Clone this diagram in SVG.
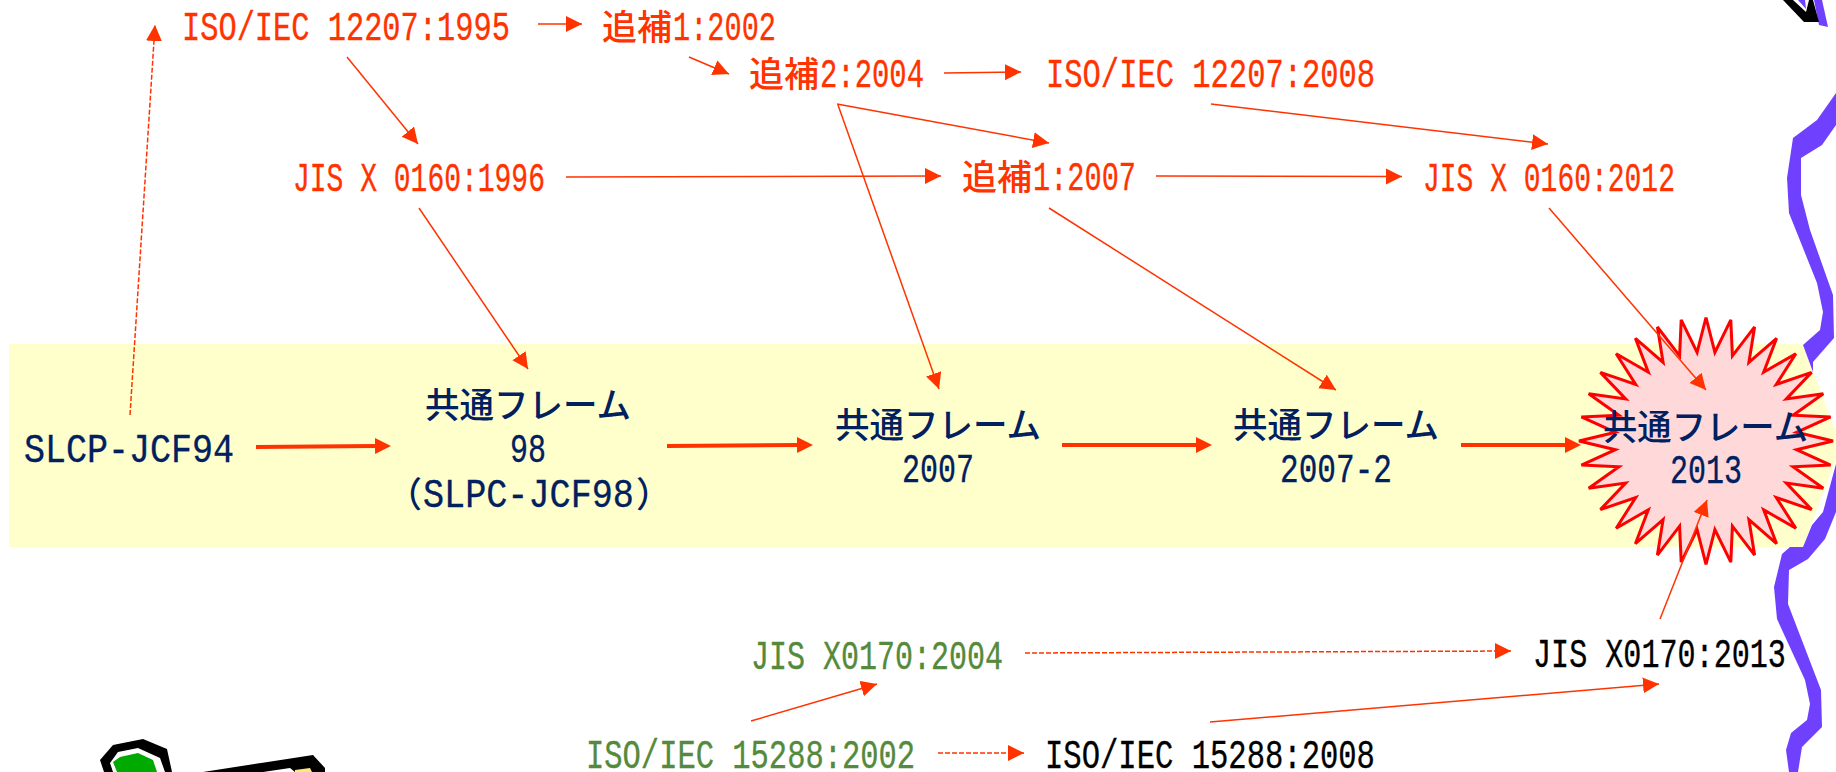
<svg xmlns="http://www.w3.org/2000/svg" width="1836" height="772" viewBox="0 0 1836 772">
<style>
text{font-family:"Liberation Mono","Noto Sans CJK JP",monospace;font-size:40px;font-weight:400;stroke-width:.35px}
.jp{font-family:"Noto Sans CJK JP",sans-serif;font-size:35px;font-weight:500;stroke-width:0}
.red{fill:#ff3300;stroke:#ff3300}.navy{fill:#002060;stroke:#002060}.green{fill:#558a3c;stroke:#558a3c}.black{fill:#000;stroke:#000}
.thin{stroke:#ff3300;stroke-width:1.5;fill:none;marker-end:url(#head)}
.dash{stroke:#ff3300;stroke-width:1.5;fill:none;stroke-dasharray:5 2;marker-end:url(#head)}
.thick{stroke:#ff3300;stroke-width:4;fill:none;marker-end:url(#headThick)}
.band{fill:#7040ff}
</style>
<defs>
<marker id="head" markerUnits="userSpaceOnUse" markerWidth="18" markerHeight="18" refX="16" refY="8" orient="auto"><path d="M0 0L16 8L0 16Z" fill="#ff3300"/></marker>
<marker id="headThick" markerUnits="userSpaceOnUse" markerWidth="18" markerHeight="18" refX="1" refY="8" orient="auto"><path d="M0 0L16 8L0 16Z" fill="#ff3300"/></marker>
</defs>
<rect width="1836" height="772" fill="#fff"/>

<!-- timeline band -->
<polygon id="band" points="9,344 1803,344 1841,445 1803,547 9,547" fill="#ffffcc"/>

<!-- wavy purple edge -->
<g id="edge">
<polygon class="band" points="1814,0 1819,25 1828,27 1822,0"/>
<polygon class="band" points="1836,93 1817,120 1793,138 1787,178 1789,213 1817,283 1823,312 1820,330 1803,345 1813,372 1813,362 1834,338 1833,295 1810,230 1801,195 1801,158 1822,145 1836,125"/>
<polygon class="band" points="1836,464 1823,512 1812,525 1803,547 1790,547 1782,554 1774,587 1777,619 1805,680 1810,704 1807,720 1791,733 1786,750 1789,772 1798,772 1802,747 1822,727 1821,690 1788,604 1789,570 1808,559 1825,539 1836,512"/>
</g>

<!-- corner glyph at top right -->
<g id="corner">
<polygon points="1783,0 1804,22 1819,22 1813,0" fill="#000"/>
<polygon points="1793,0 1806,12 1809,0" fill="#fff"/>
<polygon points="1798,0 1806,9 1805,0" fill="#7040ff"/>
</g>

<!-- burst behind the current edition -->
<polygon id="burst" fill="#ffd9d9" stroke="#ff0000" stroke-width="3" stroke-linejoin="miter" points="1706,317.5 1714.9,352.4 1730.8,319.9 1732.4,355.8 1754.6,326.9 1748.9,362.5 1776.6,338.3 1763.7,372.2 1795.8,353.7 1776.3,384.5 1811.6,372.4 1786.3,399 1823.3,393.7 1793.1,415.2 1830.6,416.9 1796.6,432.3 1833,441 1796.6,449.7 1830.6,465.1 1793.1,466.8 1823.3,488.3 1786.3,483 1811.6,509.6 1776.3,497.5 1795.8,528.3 1763.7,509.8 1776.6,543.7 1748.9,519.5 1754.6,555.1 1732.4,526.2 1730.8,562.1 1714.9,529.6 1706,564.5 1697.1,529.6 1681.2,562.1 1679.6,526.2 1657.4,555.1 1663.1,519.5 1635.4,543.7 1648.3,509.8 1616.2,528.3 1635.7,497.5 1600.4,509.6 1625.7,483 1588.7,488.3 1618.9,466.8 1581.4,465.1 1615.4,449.7 1579,441 1615.4,432.3 1581.4,416.9 1618.9,415.2 1588.7,393.7 1625.7,399 1600.4,372.4 1635.7,384.5 1616.2,353.7 1648.3,372.2 1635.4,338.3 1663.1,362.5 1657.4,326.9 1679.6,355.8 1681.2,319.9 1697.1,352.4"/>

<!-- figure cropped by the bottom edge -->
<g id="mascot">
<polygon points="104,772 100,760 113,745 143,739 167,749 172,772" fill="#000"/>
<polygon points="113,772 110,763 118,752 138,748 160,758 165,772" fill="#fff"/>
<polygon points="117,772 113,762 120,757 138,753 153,760 157,772" fill="#00aa00"/>
<polygon points="203,772 313,755 325,768 325,772" fill="#000"/>
<polygon points="263,772 290,768 295,772" fill="#fff"/>
<polygon points="295,772 295,770 310,768 312,772" fill="#ffe680"/>
</g>

<g id="connectors">
<line class="dash" x1="130" y1="415" x2="155" y2="25"/>
<line class="thin" x1="538" y1="24" x2="582" y2="24"/>
<line class="thin" x1="689" y1="57" x2="729" y2="74"/>
<line class="thin" x1="347" y1="57" x2="418" y2="144"/>
<line class="thin" x1="944" y1="73" x2="1021" y2="72"/>
<line class="thin" x1="837" y1="104" x2="1049" y2="143"/>
<line class="thin" x1="838" y1="105" x2="939" y2="389"/>
<line class="thin" x1="1211" y1="104" x2="1548" y2="144"/>
<line class="thin" x1="566" y1="177" x2="941" y2="176"/>
<line class="thin" x1="1156" y1="176" x2="1402" y2="176.5"/>
<line class="thin" x1="419" y1="208" x2="528" y2="369"/>
<line class="thin" x1="1049" y1="208" x2="1336" y2="390"/>
<line class="thin" x1="1549" y1="208" x2="1706" y2="390"/>
<line class="thin" x1="1660" y1="619" x2="1707" y2="500"/>
<line class="thick" x1="256" y1="447" x2="376" y2="446"/>
<line class="thick" x1="667" y1="446" x2="798" y2="445"/>
<line class="thick" x1="1062" y1="445" x2="1197" y2="445"/>
<line class="thick" x1="1461" y1="445" x2="1566" y2="445"/>
<line class="dash" x1="1025" y1="653" x2="1511" y2="651"/>
<line class="thin" x1="751" y1="721" x2="877" y2="684"/>
<line class="dash" x1="938" y1="753" x2="1024" y2="753"/>
<line class="thin" x1="1210" y1="722" x2="1659" y2="684"/>
</g>

<g id="iso-12207-1995"><text class="red" transform="translate(182 40) scale(.759 1)">ISO/IEC 12207:1995</text></g>
<g id="amd1-2002"><text class="red jp" x="602" y="40">追補</text><text class="red" transform="translate(673 40) scale(.715 1)">1:2002</text></g>
<g id="amd2-2004"><text class="red jp" x="749" y="87">追補</text><text class="red" transform="translate(820 87) scale(.722 1)">2:2004</text></g>
<g id="iso-12207-2008"><text class="red" transform="translate(1046 87) scale(.762 1)">ISO/IEC 12207:2008</text></g>
<g id="jis-0160-1996"><text class="red" transform="translate(293 191) scale(.7 1)">JIS X 0160:1996</text></g>
<g id="amd1-2007"><text class="red jp" x="962" y="190">追補</text><text class="red" transform="translate(1033 190) scale(.715 1)">1:2007</text></g>
<g id="jis-0160-2012"><text class="red" transform="translate(1423 191) scale(.7 1)">JIS X 0160:2012</text></g>

<g id="slcp-jcf94"><text class="navy" transform="translate(24 462) scale(.875 1)">SLCP-JCF94</text></g>
<g id="frame-98">
<text class="navy jp" x="425" y="418" textLength="206" lengthAdjust="spacingAndGlyphs">共通フレーム</text>
<text class="navy" transform="translate(510 462) scale(.75 1)">98</text>
<text class="navy jp" x="387" y="507">（</text><text class="navy" transform="translate(423 507) scale(.879 1)">SLPC-JCF98</text><text class="navy jp" x="636" y="507">）</text>
</g>
<g id="frame-2007">
<text class="navy jp" x="835" y="438" textLength="206" lengthAdjust="spacingAndGlyphs">共通フレーム</text>
<text class="navy" transform="translate(902 482) scale(.75 1)">2007</text>
</g>
<g id="frame-2007-2">
<text class="navy jp" x="1233" y="438" textLength="206" lengthAdjust="spacingAndGlyphs">共通フレーム</text>
<text class="navy" transform="translate(1280 482) scale(.778 1)">2007-2</text>
</g>
<g id="frame-2013">
<text class="navy jp" x="1603" y="440" textLength="205" lengthAdjust="spacingAndGlyphs">共通フレーム</text>
<text class="navy" transform="translate(1670 483) scale(.75 1)">2013</text>
</g>

<g id="jis-x0170-2004"><text class="green" transform="translate(751 669) scale(.75 1)">JIS X0170:2004</text></g>
<g id="jis-x0170-2013"><text class="black" transform="translate(1533 667) scale(.753 1)">JIS X0170:2013</text></g>
<g id="iso-15288-2002"><text class="green" transform="translate(586 768) scale(.762 1)">ISO/IEC 15288:2002</text></g>
<g id="iso-15288-2008"><text class="black" transform="translate(1045 768) scale(.764 1)">ISO/IEC 15288:2008</text></g>
</svg>
